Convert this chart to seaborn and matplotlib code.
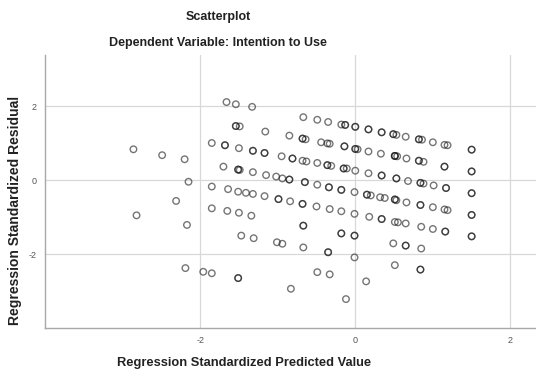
import matplotlib
matplotlib.use("Agg")
import matplotlib.pyplot as plt
import seaborn as sns
import pandas as pd

# valores (previsto padronizado x residuo padronizado)
topo_x = [-1.66, -1.54, -1.33]
topo_y = [2.12, 2.06, 1.99]

faixa1_x = [-0.67, -0.49, -0.35, -0.18, -0.13, -0.13, 0.00, 0.00, 0.17, 0.17, 0.34, 0.34,
            0.49, 0.49, 0.53, 0.65, 0.82, 0.82, 0.86, 1.00, 1.15, 1.19, 1.50, 1.50]
faixa1_y = [1.71, 1.64, 1.58, 1.51, 1.50, 1.50, 1.45, 1.45, 1.38, 1.38, 1.30, 1.30,
            1.25, 1.25, 1.23, 1.18, 1.11, 1.11, 1.10, 1.03, 0.96, 0.95, 0.83, 0.83]

faixa2_x = [-1.54, -1.54, -1.49, -1.16, -0.85, -0.68, -0.68, -0.64, -0.44, -0.36, -0.33, -0.14,
            -0.14, 0.00, 0.00, 0.03, 0.17, 0.33, 0.51, 0.51, 0.51, 0.54, 0.66, 0.82, 0.82, 0.88,
            1.15, 1.15, 1.50, 1.50]
faixa2_y = [1.47, 1.47, 1.46, 1.32, 1.21, 1.13, 1.13, 1.11, 1.03, 1.00, 0.99, 0.92,
            0.92, 0.85, 0.85, 0.84, 0.78, 0.72, 0.66, 0.66, 0.66, 0.65, 0.59, 0.53, 0.53, 0.50,
            0.37, 0.37, 0.24, 0.24]

esquerda_x = [-2.86, -2.49, -2.20]
esquerda_y = [0.84, 0.68, 0.57]

faixa3_x = [-1.85, -1.68, -1.68, -1.50, -1.32, -1.32, -1.17, -1.17, -0.95, -0.81, -0.81, -0.68,
            -0.63, -0.49, -0.36, -0.36, -0.31, -0.15, -0.15, -0.11, 0.00, 0.17, 0.34, 0.34,
            0.53, 0.53, 0.68, 0.84, 0.84, 0.88, 1.01, 1.17, 1.17, 1.50, 1.50]
faixa3_y = [1.01, 0.95, 0.95, 0.87, 0.80, 0.80, 0.74, 0.74, 0.65, 0.59, 0.59, 0.53,
            0.51, 0.47, 0.41, 0.41, 0.39, 0.32, 0.32, 0.32, 0.26, 0.19, 0.13, 0.13,
            0.05, 0.05, -0.02, -0.07, -0.07, -0.09, -0.14, -0.21, -0.21, -0.35, -0.35]

faixa4_x = [-1.70, -1.51, -1.51, -1.49, -1.32, -1.15, -1.02, -0.94, -0.85, -0.85, -0.65, -0.65,
            -0.49, -0.34, -0.34, -0.18, -0.18, -0.01, 0.15, 0.15, 0.20, 0.32, 0.38, 0.51,
            0.51, 0.53, 0.66, 0.84, 0.84, 1.00, 1.15, 1.19, 1.50, 1.50]
faixa4_y = [0.37, 0.29, 0.29, 0.28, 0.22, 0.14, 0.10, 0.05, 0.02, 0.02, -0.05, -0.05,
            -0.12, -0.19, -0.19, -0.26, -0.26, -0.32, -0.39, -0.39, -0.41, -0.46, -0.48, -0.52,
            -0.52, -0.54, -0.60, -0.67, -0.67, -0.73, -0.79, -0.81, -0.94, -0.94]

faixa5_x = [-2.15, -1.85, -1.64, -1.51, -1.41, -1.32, -1.17, -0.99, -0.99, -0.84, -0.68, -0.68,
            -0.50, -0.33, -0.18, -0.01, 0.18, 0.34, 0.34, 0.51, 0.55, 0.65, 0.85, 1.00,
            1.16, 1.16, 1.50, 1.50]
faixa5_y = [-0.04, -0.17, -0.24, -0.31, -0.34, -0.37, -0.43, -0.51, -0.51, -0.57, -0.64, -0.64,
            -0.71, -0.78, -0.84, -0.91, -0.99, -1.05, -1.05, -1.13, -1.14, -1.17, -1.26, -1.32,
            -1.39, -1.39, -1.52, -1.52]

baixo_x = [-2.31, -2.82, -1.85, -1.65, -1.50, -1.34, -2.17, -0.67, -0.67, -0.18, -0.18, -0.01, -0.01,
           -1.47, -1.31, -1.01, -0.94, -0.67, -0.35, -0.35, 0.49, 0.65, 0.65, 0.85, -0.01,
           -2.19, -1.96, -1.85, -1.51, -1.51, -0.49, -0.33, 0.51, 0.84, 0.84, -0.83, 0.14, -0.12]
baixo_y = [-0.56, -0.95, -0.76, -0.83, -0.88, -0.96, -1.21, -1.23, -1.23, -1.44, -1.44, -1.50, -1.50,
           -1.50, -1.57, -1.68, -1.72, -1.82, -1.95, -1.95, -1.71, -1.77, -1.77, -1.85, -2.09,
           -2.38, -2.48, -2.52, -2.65, -2.65, -2.49, -2.55, -2.30, -2.42, -2.42, -2.94, -2.74, -3.22]

previsto = topo_x + faixa1_x + faixa2_x + esquerda_x + faixa3_x + faixa4_x + faixa5_x + baixo_x
residuo = topo_y + faixa1_y + faixa2_y + esquerda_y + faixa3_y + faixa4_y + faixa5_y + baixo_y
df = pd.DataFrame({"previsto": previsto, "residuo": residuo})

sns.set_style("white")
fonte = ["Liberation Sans Narrow", "Liberation Sans", "DejaVu Sans"]
plt.rcParams["font.family"] = fonte
plt.rcParams["axes.unicode_minus"] = False

fig = plt.figure(figsize=(5.36, 3.73), dpi=100)
ax = fig.add_axes([0.084, 0.121, 0.916, 0.732])

sns.scatterplot(data=df, x="previsto", y="residuo", ax=ax, marker="o", s=22,
                facecolors="none", edgecolor=(0.1, 0.1, 0.1, 0.6), linewidth=1.0, zorder=3)

ax.set_xlim(-4.0, 2.33)
ax.set_ylim(-4.0, 3.4)
ax.set_xticks([-2, 0, 2])
ax.set_yticks([-2, 0, 2])
ax.grid(True, color="#d8d8d8", linewidth=0.9)
ax.set_axisbelow(True)
for lado in ["top", "right"]:
    ax.spines[lado].set_visible(False)
for lado in ["left", "bottom"]:
    ax.spines[lado].set_color("#a8a8a8")
    ax.spines[lado].set_linewidth(1.0)
ax.tick_params(length=0, labelsize=6.5, labelcolor="#555555", pad=6)

ax.set_xlabel("")
ax.set_ylabel("")
fig.text(0.455, 0.027, "Regression Standardized Predicted Value", ha="center", va="center",
         fontsize=9.3, fontweight="bold", color="#222222")
fig.text(0.028, 0.437, "Regression Standardized Residual", ha="center", va="center",
         rotation=90, fontsize=10, fontweight="bold", color="#222222")
fig.text(0.408, 0.954, "Scatterplot", ha="center", va="center",
         fontsize=9, fontweight="bold", color="#222222")
fig.text(0.407, 0.884, "Dependent Variable: Intention to Use", ha="center", va="center",
         fontsize=9, fontweight="bold", color="#222222")

plt.savefig("out.png", dpi=100)
